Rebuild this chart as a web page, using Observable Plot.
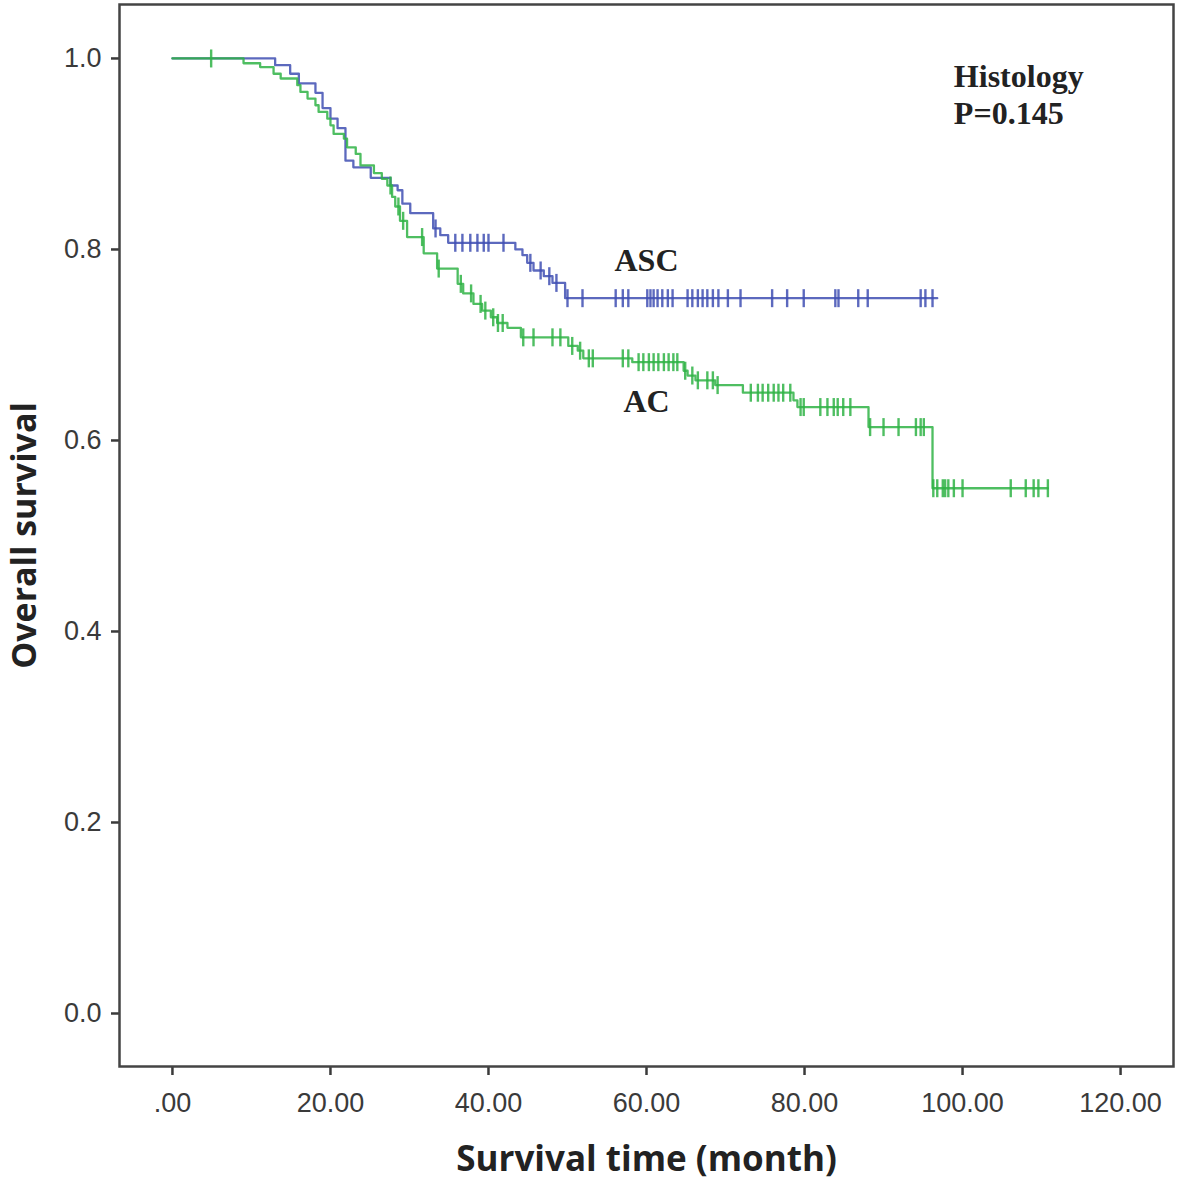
<!DOCTYPE html>
<html><head><meta charset="utf-8">
<script src="https://cdn.jsdelivr.net/npm/d3@7"></script>
<script src="https://cdn.jsdelivr.net/npm/@observablehq/plot@0.6"></script>
<style>body{margin:0;background:#fff}</style>
</head><body><div id="chart"></div>
<script>
// ---- Data ----
const groups = ["ASC", "AC"];
const groupColors = ["#3f4fb3", "#2fb345"];

const ascEventTimes = [13.0, 14.9, 16.0, 18.1, 19.0, 20.0, 20.9, 21.9, 22.9, 25.1, 27.6, 28.5, 29.1, 30.1, 33.0, 33.9, 34.9, 43.4, 44.3, 44.9, 45.7, 47.0, 48.1, 49.7];
const ascEventSurv  = [0.993, 0.984, 0.974, 0.964, 0.948, 0.937, 0.927, 0.893, 0.886, 0.875, 0.867, 0.862, 0.848, 0.838, 0.822, 0.815, 0.807, 0.800, 0.794, 0.786, 0.778, 0.772, 0.765, 0.749];
const ascCensorTimes = [33.3, 35.8, 36.7, 37.7, 38.6, 39.4, 40.0, 41.9, 45.3, 46.6, 47.7, 48.6, 50.0, 51.9, 56.1, 57.0, 57.7, 60.1, 60.5, 60.9, 61.4, 62.0, 62.7, 63.3, 65.2, 65.8, 66.5, 67.1, 67.7, 68.4, 69.1, 70.3, 71.9, 75.9, 77.8, 79.9, 83.9, 84.3, 86.8, 88.0, 94.7, 95.3, 96.2];
const ascEndTime = 96.8;

const acEventTimes = [9.0, 11.1, 12.8, 13.7, 15.8, 16.2, 17.1, 18.1, 18.5, 19.6, 20.0, 20.4, 21.7, 22.1, 23.2, 23.8, 25.5, 26.5, 27.2, 27.8, 28.2, 28.8, 29.7, 31.8, 33.5, 36.1, 36.8, 38.1, 39.2, 40.3, 41.1, 42.4, 44.1, 50.1, 51.3, 52.0, 58.2, 64.7, 65.2, 66.2, 68.7, 72.2, 78.6, 79.1, 88.1, 96.2];
const acEventSurv  = [0.995, 0.991, 0.984, 0.979, 0.972, 0.965, 0.958, 0.951, 0.944, 0.937, 0.930, 0.921, 0.916, 0.907, 0.900, 0.888, 0.880, 0.874, 0.867, 0.855, 0.845, 0.830, 0.813, 0.796, 0.780, 0.764, 0.754, 0.743, 0.736, 0.729, 0.723, 0.718, 0.708, 0.699, 0.694, 0.686, 0.682, 0.673, 0.668, 0.663, 0.658, 0.650, 0.642, 0.635, 0.614, 0.550];
const acCensorTimes = [4.9, 27.6, 28.6, 29.2, 31.6, 33.7, 36.5, 37.8, 39.0, 39.6, 40.6, 41.2, 41.8, 44.4, 45.7, 48.1, 49.1, 50.6, 51.6, 52.7, 53.2, 57.0, 57.7, 59.0, 59.6, 60.3, 60.9, 61.5, 62.2, 62.8, 63.4, 63.9, 64.9, 65.8, 66.5, 67.7, 68.4, 69.0, 73.2, 74.1, 74.7, 75.4, 76.1, 76.7, 77.3, 78.2, 79.5, 79.9, 82.0, 82.9, 83.7, 84.2, 84.9, 85.8, 88.3, 90.0, 91.9, 94.1, 94.7, 95.1, 96.3, 96.8, 97.5, 97.8, 98.2, 98.9, 100.0, 106.1, 108.0, 109.0, 109.6, 110.8];
const acEndTime = 110.8;

const xTicks = [0, 20, 40, 60, 80, 100, 120];
const yTicks = [0, 0.2, 0.4, 0.6, 0.8, 1.0];
const xTitle = "Survival time (month)";
const yTitle = "Overall survival";
const groupLabels = [
  {text: "ASC", t: 60.0, s: 0.788},
  {text: "AC", t: 60.0, s: 0.641}
];
const legendTitle = ["Histology", "P=0.145"];
const legendPos = {t: 98.9, s: [0.981, 0.942]};

// ---- Build tables ----
function survAt(times, surv, t) {
  let s = 1;
  for (let i = 0; i < times.length; i++) if (times[i] <= t) s = surv[i];
  return s;
}
function stepTable(group, times, surv, end) {
  const rows = [{group, t: 0, s: 1}];
  times.forEach((t, i) => rows.push({group, t, s: surv[i]}));
  rows.push({group, t: end, s: surv[surv.length - 1]});
  return rows;
}
function censorTable(group, ctimes, times, surv) {
  return ctimes.map(t => ({group, t, s: survAt(times, surv, t)}));
}
const steps = [
  ...stepTable("ASC", ascEventTimes, ascEventSurv, ascEndTime),
  ...stepTable("AC", acEventTimes, acEventSurv, acEndTime)
];
const censors = [
  ...censorTable("ASC", ascCensorTimes, ascEventTimes, ascEventSurv),
  ...censorTable("AC", acCensorTimes, acEventTimes, acEventSurv)
];

const vbar = {
  draw(context, size) {
    const r = Math.sqrt(size / Math.PI);
    context.moveTo(0, -r);
    context.lineTo(0, r);
  }
};

const fmtX = d => d === 0 ? ".00" : d.toFixed(2);

const chart = Plot.plot({
  width: 1181,
  height: 1187,
  marginLeft: 119,
  marginTop: 4,
  marginRight: 8,
  marginBottom: 121,
  x: {domain: [-6.7, 126.7]},
  y: {domain: [-0.0555, 1.0565]},
  color: {domain: groups, range: groupColors},
  style: {fontFamily: "'Liberation Sans', Arial, sans-serif", background: "#fff", color: "#3a3a3a"},
  marks: [
    Plot.axisX({ticks: xTicks, tickFormat: fmtX, tickSize: 9, tickPadding: 17, fontSize: 27, label: null, strokeWidth: 2.5}),
    Plot.axisY({ticks: yTicks, tickFormat: d3.format(".1f"), tickSize: 8, tickPadding: 10, fontSize: 27, label: null, strokeWidth: 2.5}),
    Plot.line(steps, {x: "t", y: "s", z: "group", stroke: "group", curve: "step-after", strokeWidth: 2.3, strokeOpacity: 0.85}),
    Plot.dot(censors, {x: "t", y: "s", stroke: "group", symbol: vbar, r: 9, strokeWidth: 2.4, strokeOpacity: 0.85}),
    Plot.frame({stroke: "#444", strokeWidth: 2.5}),
    Plot.text(groupLabels, {x: "t", y: "s", text: "text", fontFamily: "'Liberation Serif', 'Times New Roman', serif", fontWeight: "bold", fontSize: 32, fill: "#222"}),
    Plot.text(legendTitle, {x: () => legendPos.t, y: (d, i) => legendPos.s[i], text: d => d, textAnchor: "start", fontFamily: "'Liberation Serif', 'Times New Roman', serif", fontWeight: "bold", fontSize: 32, fill: "#222"}),
    Plot.text([xTitle], {frameAnchor: "bottom", dy: 104, textAnchor: "middle", text: d => d, fontFamily: "'Open Sans', sans-serif", fontWeight: "bold", fontSize: 35, fill: "#222"}),
    Plot.text([yTitle], {frameAnchor: "left", dx: -94, textAnchor: "middle", rotate: -90, text: d => d, fontFamily: "'Open Sans', sans-serif", fontWeight: "bold", fontSize: 34, fill: "#222"})
  ]
});
document.getElementById("chart").append(chart);
</script>
</body></html>
